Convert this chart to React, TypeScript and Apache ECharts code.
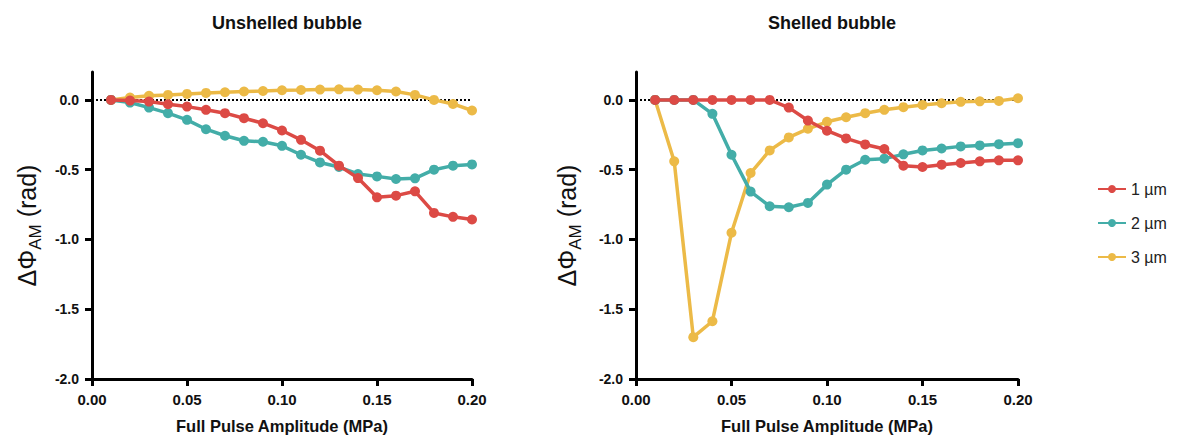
import React, { useEffect, useRef } from "react";
import * as echarts from "echarts";

const xValues = [0.01, 0.02, 0.03, 0.04, 0.05, 0.06, 0.07, 0.08, 0.09, 0.1, 0.11, 0.12, 0.13, 0.14, 0.15, 0.16, 0.17, 0.18, 0.19, 0.2];

const unshelled1 = [0, -0.005, -0.012, -0.031, -0.048, -0.071, -0.095, -0.131, -0.167, -0.219, -0.286, -0.364, -0.471, -0.56, -0.698, -0.686, -0.655, -0.81, -0.838, -0.857];
const unshelled2 = [0, -0.019, -0.055, -0.095, -0.143, -0.21, -0.257, -0.293, -0.3, -0.329, -0.393, -0.448, -0.481, -0.531, -0.548, -0.567, -0.562, -0.5, -0.471, -0.462];
const unshelled3 = [0, 0.017, 0.029, 0.036, 0.043, 0.05, 0.055, 0.06, 0.064, 0.069, 0.071, 0.074, 0.076, 0.074, 0.069, 0.06, 0.036, 0, -0.029, -0.076];

const shelled1 = [0, 0, 0, 0, 0, 0, 0, -0.055, -0.148, -0.221, -0.276, -0.319, -0.352, -0.471, -0.481, -0.464, -0.452, -0.44, -0.433, -0.433];
const shelled2 = [0, 0, 0, -0.1, -0.393, -0.657, -0.762, -0.769, -0.738, -0.607, -0.5, -0.429, -0.421, -0.39, -0.362, -0.348, -0.333, -0.326, -0.317, -0.31];
const shelled3 = [0, -0.44, -1.7, -1.586, -0.952, -0.524, -0.362, -0.269, -0.207, -0.157, -0.124, -0.095, -0.071, -0.052, -0.036, -0.024, -0.014, -0.01, -0.007, 0.012];

const seriesNames = ["1 µm", "2 µm", "3 µm"];
const colors = ["#DC4A45", "#43ADA8", "#ECBA47"];
const panelTitles = ["Unshelled bubble", "Shelled bubble"];
const xTicks = [0, 0.05, 0.1, 0.15, 0.2];
const yTicks = [-2, -1.5, -1, -0.5, 0];

const FONT = "'Liberation Sans', Arial, Helvetica, sans-serif";

const pairs = (ys: number[]) => xValues.map((x, i) => [x, ys[i]]);

export default function App() {
  const ref = useRef<HTMLDivElement>(null);
  useEffect(() => {
    if (!ref.current) return;
    const chart = echarts.init(ref.current, null, { renderer: "svg" });
    const grids = [
      { left: 92, top: 72, width: 380, height: 307 },
      { left: 636, top: 72, width: 382, height: 307 },
    ];
    const xAxis = grids.map((_, i) => ({
      type: "value",
      gridIndex: i,
      min: 0,
      max: 0.2,
      splitLine: { show: false },
      axisLine: { show: true, onZero: false, lineStyle: { color: "#000", width: 3 } },
      axisTick: { show: true, length: 7, lineStyle: { color: "#000", width: 3 }, customValues: xTicks },
      axisLabel: {
        color: "#111",
        fontFamily: FONT,
        fontWeight: "bold",
        fontSize: 15,
        margin: 13,
        customValues: xTicks,
        formatter: (v: number) => v.toFixed(2),
      },
      name: "Full Pulse Amplitude (MPa)",
      nameLocation: "middle",
      nameGap: 38,
      nameTextStyle: { color: "#111", fontFamily: FONT, fontWeight: "bold", fontSize: 16.5 },
    }));
    const yAxis = grids.map((_, i) => ({
      type: "value",
      gridIndex: i,
      min: -2,
      max: 0.2,
      splitLine: { show: false },
      axisLine: { show: true, onZero: false, lineStyle: { color: "#000", width: 3 } },
      axisTick: { show: true, length: 7, lineStyle: { color: "#000", width: 3 }, customValues: yTicks },
      axisLabel: {
        color: "#111",
        fontFamily: FONT,
        fontWeight: "bold",
        fontSize: 14,
        margin: 13,
        customValues: yTicks,
        formatter: (v: number) => v.toFixed(1),
      },
      name: "{a|ΔΦ}{s|AM}{a| (rad)}",
      nameLocation: "middle",
      nameGap: i === 0 ? 50 : 54,
      nameRotate: 90,
      nameTextStyle: {
        rich: {
          a: { fontFamily: FONT, fontSize: 25, color: "#111", lineHeight: 30 },
          s: { fontFamily: FONT, fontSize: 17, color: "#111", lineHeight: 30, padding: [16, 0, 0, 0] },
        },
      },
    }));
    const panels = [
      [unshelled1, unshelled2, unshelled3],
      [shelled1, shelled2, shelled3],
    ];
    const series: any[] = [];
    panels.forEach((panel, gi) => {
      [2, 1, 0].forEach((si) => {
        const s: any = {
          type: "line",
          name: seriesNames[si],
          xAxisIndex: gi,
          yAxisIndex: gi,
          data: pairs(panel[si]),
          symbol: "circle",
          symbolSize: 10,
          showSymbol: true,
          color: colors[si],
          lineStyle: { width: 3.5, color: colors[si] },
          itemStyle: { color: colors[si] },
          z: 3 + (2 - si),
        };
        if (si === 2) {
          s.markLine = {
            silent: true,
            symbol: ["none", "none"],
            label: { show: false },
            lineStyle: { type: "dotted", color: "#000", width: 2 },
            data: [{ yAxis: 0 }],
            z: 1,
          };
        }
        series.push(s);
      });
    });
    chart.setOption({
      animation: false,
      backgroundColor: "#fff",
      title: panelTitles.map((t, i) => ({
        text: t,
        left: grids[i].left + grids[i].width / 2,
        textAlign: "center",
        top: 9,
        textStyle: { fontFamily: FONT, fontWeight: "bold", fontSize: 18, color: "#111" },
      })),
      legend: {
        data: seriesNames,
        orient: "vertical",
        left: 1092,
        top: 176,
        itemWidth: 28,
        itemHeight: 10,
        itemGap: 18,
        textStyle: { fontFamily: FONT, fontSize: 16, color: "#222" },
      },
      grid: grids,
      xAxis,
      yAxis,
      series,
    });
    return () => chart.dispose();
  }, []);
  return <div ref={ref} style={{ position: "fixed", left: 0, top: 0, width: 1183, height: 444 }} />;
}
